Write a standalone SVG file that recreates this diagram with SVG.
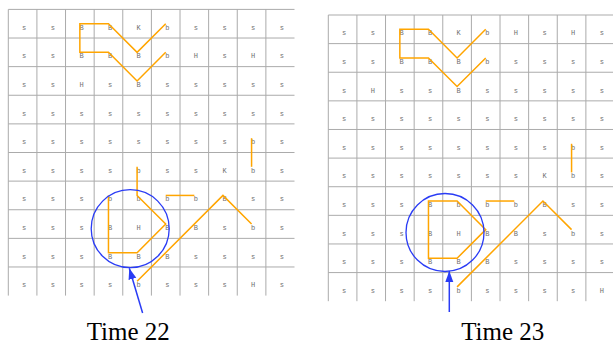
<svg xmlns="http://www.w3.org/2000/svg" xmlns:xlink="http://www.w3.org/1999/xlink" width="613" height="346" viewBox="0 0 613 346">
<style>
.grid line{stroke:#ababab;stroke-width:1}
.cells{opacity:0.99}
.cells text{font-family:"Liberation Mono",monospace;font-size:7px;fill:#707070;text-anchor:middle}
.trail{fill:none;stroke:#ffa500;stroke-width:1.5;stroke-linejoin:miter}
.focus{fill:none;stroke:#2a3cf5;stroke-width:1.3}
.pointer{stroke:#2a3cf5;stroke-width:1.5;fill:none}
.label{font-family:"Liberation Serif",serif;font-size:25px;fill:#000;text-anchor:middle}
</style>
<defs>
<marker id="head" markerUnits="userSpaceOnUse" markerWidth="12" markerHeight="9" refX="11" refY="4" orient="auto">
<path d="M0,0 L11,4 L0,8 Z" fill="#2a3cf5"/>
</marker>
<g id="gridlines" class="grid">
<line x1="0" y1="0" x2="286.2" y2="0"/>
<line x1="0" y1="28.62" x2="286.2" y2="28.62"/>
<line x1="0" y1="57.24" x2="286.2" y2="57.24"/>
<line x1="0" y1="85.86" x2="286.2" y2="85.86"/>
<line x1="0" y1="114.48" x2="286.2" y2="114.48"/>
<line x1="0" y1="143.1" x2="286.2" y2="143.1"/>
<line x1="0" y1="171.72" x2="286.2" y2="171.72"/>
<line x1="0" y1="200.34" x2="286.2" y2="200.34"/>
<line x1="0" y1="228.96" x2="286.2" y2="228.96"/>
<line x1="0" y1="257.58" x2="286.2" y2="257.58"/>
<line x1="0" y1="0" x2="0" y2="286.2"/>
<line x1="28.62" y1="0" x2="28.62" y2="286.2"/>
<line x1="57.24" y1="0" x2="57.24" y2="286.2"/>
<line x1="85.86" y1="0" x2="85.86" y2="286.2"/>
<line x1="114.48" y1="0" x2="114.48" y2="286.2"/>
<line x1="143.1" y1="0" x2="143.1" y2="286.2"/>
<line x1="171.72" y1="0" x2="171.72" y2="286.2"/>
<line x1="200.34" y1="0" x2="200.34" y2="286.2"/>
<line x1="228.96" y1="0" x2="228.96" y2="286.2"/>
<line x1="257.58" y1="0" x2="257.58" y2="286.2"/>
</g>
<path id="trailA" class="trail" d="M157.41,14.31 L128.79,42.93 L100.17,14.31 L71.55,14.31 L71.55,42.93 L100.17,42.93 L128.79,71.55 L157.41,42.93"/>
<path id="trailB" class="trail" d="M243.27,128.79 V157.41"/>
<path id="trailD" class="trail" d="M157.41,186.03 H186.03"/>
<path id="trailE" class="trail" d="M128.79,271.89 L214.65,186.03 L243.27,214.65"/>
</defs>

<g id="time22" transform="translate(8.3,9.4)">
<use xlink:href="#gridlines"/>
<g class="cells">
<text x="15.9 44.5 73.2 101.8 130.4 159.0 187.6 216.3 244.9 273.5" y="20.3">ssBBKbssss</text>
<text x="15.9 44.5 73.2 101.8 130.4 159.0 187.6 216.3 244.9 273.5" y="48.9">ssBBBbHsHs</text>
<text x="15.9 44.5 73.2 101.8 130.4 159.0 187.6 216.3 244.9 273.5" y="77.6">ssHsBsssss</text>
<text x="15.9 44.5 73.2 101.8 130.4 159.0 187.6 216.3 244.9 273.5" y="106.2">ssssssssss</text>
<text x="15.9 44.5 73.2 101.8 130.4 159.0 187.6 216.3 244.9 273.5" y="134.8">ssssssssbs</text>
<text x="15.9 44.5 73.2 101.8 130.4 159.0 187.6 216.3 244.9 273.5" y="163.4">ssssbssKbs</text>
<text x="15.9 44.5 73.2 101.8 130.4 159.0 187.6 216.3 244.9 273.5" y="192.0">sssbbbbBss</text>
<text x="15.9 44.5 73.2 101.8 130.4 159.0 187.6 216.3 244.9 273.5" y="220.7">sssBHBBsbs</text>
<text x="15.9 44.5 73.2 101.8 130.4 159.0 187.6 216.3 244.9 273.5" y="249.3">sssBBBssss</text>
<text x="15.9 44.5 73.2 101.8 130.4 159.0 187.6 216.3 244.9 273.5" y="277.9">ssssbsssHs</text>
</g>
<g class="trails">
<use xlink:href="#trailA"/>
<use xlink:href="#trailB"/>
<path class="trail" d="M128.79,157.41 V186.03 L157.41,214.65 L128.79,243.27 H100.17 V186.03"/>
<use xlink:href="#trailD"/>
<use xlink:href="#trailE"/>
</g>
</g>

<g id="time23" transform="translate(328.3,15)">
<use xlink:href="#gridlines"/>
<g class="cells">
<text x="15.9 44.5 73.2 101.8 130.4 159.0 187.6 216.3 244.9 273.5" y="20.3">ssBBKbHsHs</text>
<text x="15.9 44.5 73.2 101.8 130.4 159.0 187.6 216.3 244.9 273.5" y="48.9">ssBBBbssss</text>
<text x="15.9 44.5 73.2 101.8 130.4 159.0 187.6 216.3 244.9 273.5" y="77.6">sHssBsssss</text>
<text x="15.9 44.5 73.2 101.8 130.4 159.0 187.6 216.3 244.9 273.5" y="106.2">ssssssssss</text>
<text x="15.9 44.5 73.2 101.8 130.4 159.0 187.6 216.3 244.9 273.5" y="134.8">ssssssssbs</text>
<text x="15.9 44.5 73.2 101.8 130.4 159.0 187.6 216.3 244.9 273.5" y="163.4">sssssssKbs</text>
<text x="15.9 44.5 73.2 101.8 130.4 159.0 187.6 216.3 244.9 273.5" y="192.0">sssBbbbBss</text>
<text x="15.9 44.5 73.2 101.8 130.4 159.0 187.6 216.3 244.9 273.5" y="220.7">sssBHBBsbs</text>
<text x="15.9 44.5 73.2 101.8 130.4 159.0 187.6 216.3 244.9 273.5" y="249.3">sssBBBssss</text>
<text x="15.9 44.5 73.2 101.8 130.4 159.0 187.6 216.3 244.9 273.5" y="277.9">ssssbssssH</text>
</g>
<g class="trails">
<use xlink:href="#trailA"/>
<use xlink:href="#trailB"/>
<path class="trail" d="M128.79,186.03 H100.17 V243.27 H128.79 L157.41,214.65 Z"/>
<use xlink:href="#trailD"/>
<use xlink:href="#trailE"/>
</g>
</g>

<g id="highlight22">
<circle class="focus" cx="130.2" cy="228.7" r="39"/>
</g>
<g id="highlight23">
<circle class="focus" cx="445" cy="232.5" r="39"/>
</g>

<g id="connectors">
<line class="pointer" x1="142.6" y1="313" x2="129.3" y2="268.3" marker-end="url(#head)"/>
<line class="pointer" x1="449.3" y1="312" x2="449.3" y2="271" marker-end="url(#head)"/>
</g>

<text class="label" x="128.3" y="340">Time 22</text>
<text class="label" x="502.7" y="340">Time 23</text>
</svg>
